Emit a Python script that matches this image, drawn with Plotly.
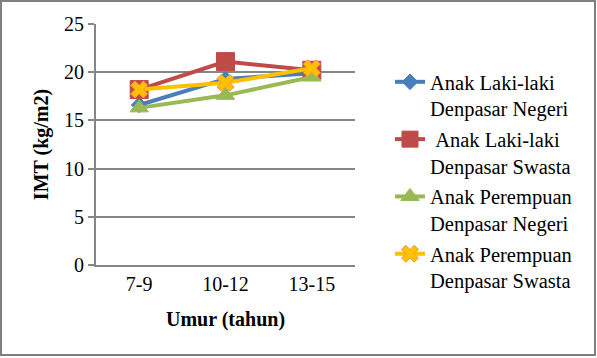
import plotly.graph_objects as go

categories = ["7-9", "10-12", "13-15"]
series_names = [
    "Anak Laki-laki<br>Denpasar Negeri",
    "\u00a0Anak Laki-laki<br>Denpasar Swasta",
    "Anak Perempuan<br>Denpasar Negeri",
    "Anak Perempuan<br>Denpasar Swasta",
]
laki_negeri = [16.6, 19.3, 19.9]
laki_swasta = [18.2, 21.1, 20.2]
perempuan_negeri = [16.3, 17.6, 19.5]
perempuan_swasta = [18.2, 18.9, 20.4]
y_ticks = [0, 5, 10, 15, 20, 25]

values = [laki_negeri, laki_swasta, perempuan_negeri, perempuan_swasta]
colors = ["#4A7EBB", "#BE4B48", "#98B954", "#FFC000"]
symbols = ["diamond", "square", "triangle-up", "x"]
sizes = [12, 18, 16, 15]

W, H = 597, 358
L, R, T, B = 96, 242, 24, 93
pw, ph = W - L - R, H - T - B

fig = go.Figure()
for name, vals, c, s, sz in zip(series_names, values, colors, symbols, sizes):
    fig.add_trace(go.Scatter(
        x=categories, y=vals, name=name, mode="lines+markers",
        line=dict(color=c, width=4),
        marker=dict(symbol=s, size=sz, color=c,
                    line=dict(width=1, color="#F79646" if s == "x" else c)),
        legendgroup=name,
    ))

font = "Liberation Serif"
fig.update_layout(
    width=W, height=H,
    margin=dict(l=L, r=R, t=T, b=B, autoexpand=False),
    paper_bgcolor="white", plot_bgcolor="white",
    font=dict(family=font, size=20, color="black"),
    showlegend=True,
    legend=dict(x=(390 - L) / pw, xanchor="left", y=(H - B - 62) / ph, yanchor="top",
                valign="top", traceorder="grouped", tracegroupgap=1,
                maxheight=340, font=dict(size=20.5, family=font)),
    xaxis=dict(range=[-0.5, 2.5], type="category", showgrid=False,
               showline=True, linecolor="#868686", linewidth=2,
               ticks="", tickfont=dict(size=20, family=font), automargin=False,
               title=dict(text="<b>Umur (tahun)</b>", font=dict(size=20, family=font), standoff=18)),
    yaxis=dict(range=[0, 25], tickvals=y_ticks, showgrid=True,
               gridcolor="#868686", gridwidth=2, automargin=False,
               showline=True, linecolor="#868686", linewidth=2,
               ticks="outside", ticklen=6, tickcolor="#868686", tickwidth=2,
               tickfont=dict(size=20, family=font), zeroline=False,
               title=dict(text="<b>IMT (kg/m2)</b>", font=dict(size=20, family=font), standoff=10)),
)

# outer border of the chart area
fig.add_shape(type="rect", xref="paper", yref="paper",
              x0=(1 - L) / pw, x1=(595 - L) / pw,
              y0=(H - 355 - B) / ph, y1=(H - 1 - B) / ph,
              line=dict(color="#7F7F7F", width=2), layer="below")

fig.write_html("out.html", config={"displayModeBar": False},
               post_script="document.body.style.margin='0';document.body.style.overflow='hidden';")
